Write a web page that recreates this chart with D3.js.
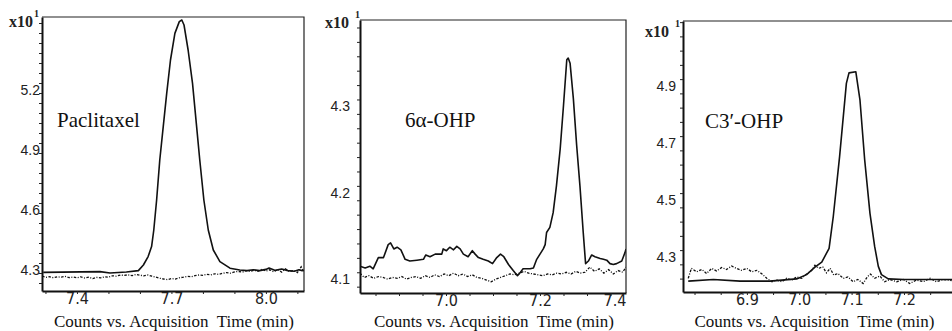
<!DOCTYPE html>
<html lang="en">
<head>
<meta charset="utf-8">
<style>
body { margin: 0; background: #fff; }
svg { display: block; }
.tick text { font-family: "Liberation Sans", Arial, sans-serif; font-size: 14px; fill: #222; }
.xt .tick text { font-family: "Liberation Sans Narrow", "DejaVu Sans Condensed", "Liberation Sans", sans-serif; font-size: 16px; }
.name { font-family: "Liberation Serif", "Times New Roman", serif; font-size: 21px; fill: #111; }
.xtitle { font-family: "Liberation Serif", "Times New Roman", serif; font-size: 17px; fill: #111; white-space: pre; }
.mult { font-family: "Liberation Serif", "Times New Roman", serif; font-size: 16px; font-weight: bold; fill: #222; }
.sup { font-family: "Liberation Serif", "Times New Roman", serif; font-size: 10px; font-weight: bold; fill: #222; }
</style>
<title>Chromatograms</title>
<script src="https://cdn.jsdelivr.net/npm/d3@7"></script>
</head>
<body>
<script>

// ---- data: [time (min), counts x10] ----
var paclitaxelSolid = [
  [7.293,4.253],[7.473,4.257],[7.505,4.250],[7.557,4.255],[7.595,4.262],[7.611,4.290],
  [7.626,4.332],[7.637,4.382],[7.644,4.465],[7.653,4.615],[7.663,4.815],[7.674,4.982],
  [7.685,5.148],[7.697,5.315],[7.711,5.448],[7.725,5.507],[7.733,5.515],[7.740,5.490],
  [7.753,5.365],[7.767,5.198],[7.780,4.982],[7.790,4.815],[7.803,4.615],[7.817,4.465],
  [7.833,4.365],[7.854,4.307],[7.886,4.274],[7.917,4.265],[7.940,4.262],[7.960,4.266],
  [7.980,4.262],[8.000,4.268],[8.010,4.275],[8.030,4.263],[8.050,4.270],[8.070,4.262],
  [8.090,4.259],[8.105,4.266],[8.115,4.262],[8.121,4.264]
];
var paclitaxelDashed = [
  [7.290,4.235],[7.300,4.228],[7.312,4.232],[7.325,4.226],[7.338,4.231],[7.350,4.229],
  [7.362,4.233],[7.375,4.227],[7.388,4.230],[7.400,4.226],[7.412,4.231],[7.425,4.225],
  [7.438,4.229],[7.450,4.222],[7.462,4.228],[7.475,4.226],[7.488,4.231],[7.500,4.229],
  [7.512,4.236],[7.525,4.234],[7.538,4.240],[7.550,4.238],[7.562,4.241],[7.575,4.237],
  [7.588,4.243],[7.600,4.239],[7.612,4.236],[7.625,4.240],[7.638,4.234],[7.650,4.230],
  [7.662,4.224],[7.675,4.220],[7.688,4.217],[7.700,4.222],[7.712,4.220],[7.725,4.226],
  [7.738,4.229],[7.750,4.233],[7.762,4.231],[7.775,4.237],[7.788,4.240],[7.800,4.238],
  [7.812,4.243],[7.825,4.241],[7.838,4.246],[7.850,4.243],[7.862,4.248],[7.875,4.252],
  [7.888,4.249],[7.900,4.255],[7.912,4.258],[7.925,4.254],[7.938,4.262],[7.950,4.257],
  [7.962,4.264],[7.975,4.258],[7.988,4.270],[8.000,4.259],[8.012,4.266],[8.025,4.256],
  [8.038,4.268],[8.050,4.254],[8.062,4.271],[8.075,4.257],[8.088,4.263],[8.100,4.252],
  [8.112,4.281],[8.120,4.258]
];

var ohp6Solid = [
  [6.817,4.107],[6.828,4.105],[6.838,4.107],[6.845,4.104],[6.856,4.117],[6.867,4.117],
  [6.877,4.132],[6.882,4.134],[6.889,4.127],[6.896,4.129],[6.904,4.126],[6.913,4.115],
  [6.923,4.113],[6.938,4.114],[6.952,4.115],[6.957,4.120],[6.966,4.118],[6.977,4.121],
  [6.991,4.121],[6.994,4.127],[7.001,4.125],[7.008,4.129],[7.016,4.126],[7.023,4.130],
  [7.030,4.127],[7.037,4.121],[7.047,4.118],[7.056,4.125],[7.062,4.121],[7.069,4.117],
  [7.079,4.115],[7.090,4.113],[7.099,4.110],[7.108,4.117],[7.116,4.121],[7.123,4.118],
  [7.133,4.109],[7.143,4.102],[7.152,4.096],[7.157,4.099],[7.164,4.104],[7.179,4.104],
  [7.186,4.105],[7.193,4.115],[7.200,4.121],[7.207,4.127],[7.211,4.132],[7.214,4.146],
  [7.221,4.152],[7.228,4.169],[7.235,4.200],[7.243,4.243],[7.250,4.293],[7.257,4.346],
  [7.260,4.348],[7.264,4.342],[7.271,4.301],[7.278,4.247],[7.285,4.200],[7.292,4.146],
  [7.297,4.110],[7.303,4.113],[7.310,4.120],[7.317,4.118],[7.328,4.116],[7.335,4.115],
  [7.342,4.114],[7.349,4.110],[7.356,4.109],[7.363,4.110],[7.374,4.113],[7.381,4.123],
  [7.383,4.127]
];
var ohp6Dashed = [
  [6.817,4.099],[6.826,4.094],[6.836,4.096],[6.846,4.093],[6.856,4.095],[6.866,4.094],
  [6.876,4.092],[6.886,4.094],[6.896,4.093],[6.906,4.095],[6.916,4.092],[6.926,4.094],
  [6.936,4.095],[6.946,4.093],[6.956,4.096],[6.966,4.094],[6.976,4.097],[6.986,4.095],
  [6.996,4.098],[7.006,4.096],[7.016,4.099],[7.026,4.096],[7.036,4.098],[7.046,4.095],
  [7.056,4.097],[7.066,4.094],[7.076,4.093],[7.086,4.091],[7.096,4.089],[7.106,4.092],
  [7.116,4.094],[7.126,4.096],[7.136,4.098],[7.146,4.097],[7.156,4.099],[7.166,4.101],
  [7.176,4.099],[7.186,4.098],[7.196,4.097],[7.206,4.096],[7.216,4.098],[7.226,4.097],
  [7.236,4.099],[7.246,4.098],[7.256,4.100],[7.266,4.098],[7.276,4.101],[7.286,4.099],
  [7.296,4.100],[7.306,4.106],[7.316,4.101],[7.326,4.104],[7.336,4.099],[7.346,4.103],
  [7.356,4.098],[7.366,4.102],[7.376,4.100],[7.383,4.106]
];

var c3ohpSolid = [
  [6.788,4.191],[6.836,4.197],[6.887,4.191],[6.944,4.191],[6.995,4.199],[7.014,4.214],
  [7.030,4.240],[7.043,4.258],[7.057,4.306],[7.065,4.418],[7.077,4.627],[7.090,4.885],
  [7.095,4.922],[7.108,4.926],[7.116,4.826],[7.125,4.616],[7.135,4.430],[7.144,4.313],
  [7.151,4.243],[7.157,4.214],[7.170,4.199],[7.200,4.197],[7.240,4.197],[7.292,4.197]
];
var c3ohpDashed = [
  [6.788,4.201],[6.794,4.236],[6.804,4.224],[6.814,4.232],[6.823,4.218],[6.833,4.236],
  [6.842,4.227],[6.852,4.239],[6.861,4.232],[6.871,4.244],[6.880,4.236],[6.890,4.229],
  [6.900,4.236],[6.909,4.224],[6.919,4.229],[6.929,4.216],[6.938,4.201],[6.948,4.189],
  [6.957,4.195],[6.967,4.189],[6.976,4.201],[6.986,4.195],[6.995,4.206],[7.005,4.201],
  [7.014,4.216],[7.024,4.229],[7.030,4.247],[7.037,4.236],[7.045,4.241],[7.052,4.220],
  [7.059,4.236],[7.066,4.212],[7.074,4.218],[7.084,4.201],[7.093,4.206],[7.103,4.189],
  [7.112,4.197],[7.122,4.183],[7.130,4.206],[7.136,4.216],[7.144,4.201],[7.154,4.209],
  [7.163,4.189],[7.173,4.197],[7.186,4.189],[7.199,4.197],[7.211,4.183],[7.224,4.195],
  [7.237,4.189],[7.250,4.201],[7.262,4.189],[7.275,4.197],[7.291,4.193]
];

// tick labels
var paclitaxelXTicks = [7.4, 7.7, 8.0];
var paclitaxelYTicks = [4.3, 4.6, 4.9, 5.2];
var ohp6XTicks = [7.0, 7.2, 7.4];
var ohp6YTicks = [4.1, 4.2, 4.3];
var c3ohpXTicks = [6.9, 7.0, 7.1, 7.2];
var c3ohpYTicks = [4.3, 4.5, 4.7, 4.9];

var names = ["Paclitaxel", "6\u03b1-OHP", "C3\u2032-OHP"];
var xTitle = "Counts vs. Acquisition  Time (min)";

// ---- layout ----
var width = 952, height = 331;

var panels = [
  { name: names[0], solid: paclitaxelSolid, dashed: paclitaxelDashed,
    xTicks: paclitaxelXTicks, yTicks: paclitaxelYTicks,
    xDomain: [7.289, 8.121], yDomain: [4.16, 5.53],
    xMinor: 0.1, yMinor: 0.05,
    left: 42, right: 304, top: 17, bottom: 291, labelGap: 2,
    nameX: 57, nameY: 127, multX: 9, multY: 27 },
  { name: names[1], solid: ohp6Solid, dashed: ohp6Dashed,
    xTicks: ohp6XTicks, yTicks: ohp6YTicks,
    xDomain: [6.817, 7.383], yDomain: [4.076, 4.392],
    xMinor: 0.05, yMinor: 1 / 60,
    left: 360, right: 626, top: 20, bottom: 293, labelGap: 10,
    nameX: 405, nameY: 127, multX: 325, multY: 28 },
  { name: names[2], solid: c3ohpSolid, dashed: c3ohpDashed,
    xTicks: c3ohpXTicks, yTicks: c3ohpYTicks,
    xDomain: [6.778, 7.307], yDomain: [4.153, 5.104],
    xMinor: 0.05, yMinor: 0.05,
    left: 683, right: 960, top: 21, bottom: 292, labelGap: 7,
    nameX: 705, nameY: 128, multX: 645, multY: 37 }
];

var svg = d3.select("body").append("svg")
  .attr("width", width)
  .attr("height", height);

panels.forEach(function(p, i) {
  var x = d3.scaleLinear().domain(p.xDomain).range([p.left, p.right]);
  var y = d3.scaleLinear().domain(p.yDomain).range([p.bottom, p.top]);
  var g = svg.append("g");

  g.append("clipPath").attr("id", "clip" + i)
    .append("rect")
    .attr("x", p.left).attr("y", p.top)
    .attr("width", p.right - p.left).attr("height", p.bottom - p.top);

  var line = d3.line()
    .x(function(d) { return x(d[0]); })
    .y(function(d) { return y(d[1]); });

  var plot = g.append("g").attr("clip-path", "url(#clip" + i + ")");
  plot.append("path").datum(p.dashed)
    .attr("d", line)
    .attr("fill", "none")
    .attr("stroke", "#111")
    .attr("stroke-width", 1.3)
    .attr("stroke-dasharray", "2.5,1.5,1,1.5");
  plot.append("path").datum(p.solid)
    .attr("d", line)
    .attr("fill", "none")
    .attr("stroke", "#111")
    .attr("stroke-width", 1.6)
    .attr("stroke-linejoin", "round");

  // thin top / right frame
  g.append("path")
    .attr("d", "M" + p.left + "," + p.top + "H" + p.right + "V" + p.bottom)
    .attr("fill", "none").attr("stroke", "#222").attr("stroke-width", 1.2);

  // y axis: minor ticks, then labels sitting just under their tick
  var yMinor = d3.range(Math.ceil(p.yDomain[0] / p.yMinor) * p.yMinor, p.yDomain[1], p.yMinor);
  g.append("g")
    .attr("transform", "translate(" + p.left + ",0)")
    .call(d3.axisLeft(y).tickValues(yMinor).tickSize(3).tickSizeOuter(0).tickFormat(""))
    .call(function(a) {
      a.select(".domain").attr("stroke", "#111").attr("stroke-width", 2);
      a.selectAll(".tick line").attr("stroke", "#222");
    });
  g.append("g")
    .attr("transform", "translate(" + (p.left - p.labelGap + 3) + ",0)")
    .call(d3.axisLeft(y).tickValues(p.yTicks).tickSize(0).tickPadding(3).tickFormat(d3.format(".1f")))
    .call(function(a) {
      a.select(".domain").remove();
      a.selectAll(".tick text").attr("dy", "0.8em");
    });

  // x axis
  var xMinor = d3.range(Math.ceil(p.xDomain[0] / p.xMinor) * p.xMinor, p.xDomain[1], p.xMinor);
  g.append("g")
    .attr("transform", "translate(0," + p.bottom + ")")
    .call(d3.axisBottom(x).tickValues(xMinor).tickSize(3).tickSizeOuter(0).tickFormat(""))
    .call(function(a) {
      a.select(".domain").attr("stroke", "#111").attr("stroke-width", 2);
      a.selectAll(".tick line").attr("stroke", "#222");
    });
  var xl = g.append("g")
    .attr("class", "xt")
    .attr("transform", "translate(0," + p.bottom + ")")
    .call(d3.axisBottom(x).tickValues(p.xTicks).tickSize(0).tickPadding(2).tickFormat(d3.format(".1f")));
  xl.select(".domain").remove();
  // a label that would run past the frame is pulled back inside it
  xl.selectAll(".tick").each(function(d) {
    var t = d3.select(this).select("text");
    var w = t.node().getComputedTextLength();
    var right = Math.min(p.right, width);
    if (x(d) + w / 2 > right) {
      t.attr("text-anchor", "end").attr("x", right - x(d));
    }
  });

  svg.append("text")
    .attr("class", "xtitle")
    .attr("x", (p.left + Math.min(p.right, 944)) / 2 + 1)
    .attr("y", 327)
    .attr("text-anchor", "middle")
    .text(xTitle);

  svg.append("text")
    .attr("class", "name")
    .attr("x", p.nameX)
    .attr("y", p.nameY)
    .text(p.name);

  var m = svg.append("text")
    .attr("class", "mult")
    .attr("x", p.multX)
    .attr("y", p.multY)
    .text("x10");
  var mw = m.node().getComputedTextLength();
  svg.append("text")
    .attr("class", "sup")
    .attr("x", p.multX + mw + (i === 0 ? 1 : 6))
    .attr("y", p.multY - 10)
    .text("1");
});

</script>
</body>
</html>
